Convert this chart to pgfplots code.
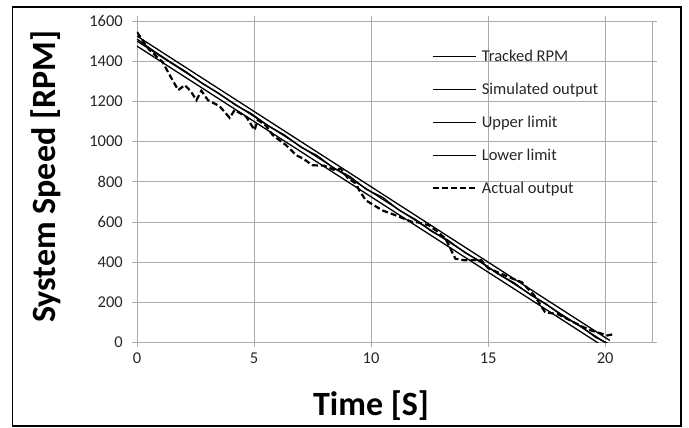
\documentclass[border=0pt]{standalone}
\usepackage{pgfplots}
\pgfplotsset{compat=1.18}
\usepackage{fontspec}
\setmainfont{Carlito}
\begin{document}
\begin{tikzpicture}[x=1pt,y=1pt]
\path[use as bounding box] (0,0) rectangle (689,428);
\draw[line width=1.3pt] (12.5,2) rectangle (681,421);
\begin{axis}[
  at={(137pt,85.5pt)}, anchor=south west,
  scale only axis, width=515pt, height=321.5pt,
  xmin=0, xmax=22, ymin=0, ymax=1600,
  xtick={0,5,10,15,20}, ytick={0,200,...,1600},
  grid=major, grid style={draw=gray!65, line width=0.8pt},
  axis line style={draw=gray!65, line width=0.8pt},
  tick align=outside, major tick length=5pt,
  every tick/.style={draw=gray!65, line width=0.8pt},
  /pgf/number format/assume math mode=true,
  /pgf/number format/set thousands separator={},
  tick label style={font=\fontsize{16.5}{18}\selectfont, text=black!85},
  yticklabel style={inner sep=0pt, xshift=-9pt},
  xticklabel style={inner sep=0pt, yshift=-5pt},
  xlabel={Time [S]}, ylabel={System Speed [RPM]},
  every axis x label/.style={at={(axis description cs:0.4545,-0.2286)}, anchor=base, font=\fontsize{34}{36}\selectfont\bfseries},
  every axis y label/.style={at={(axis description cs:-0.159,0.515)}, rotate=90, anchor=base, font=\fontsize{34}{36}\selectfont\bfseries},
  legend cell align=left,
  legend style={draw=none, fill=none, inner sep=0pt, at={(axis description cs:0.5717,0.913)}, anchor=north west,
    font=\fontsize{16.5}{18}\selectfont, text=black!85,
    nodes={inner sep=0pt, text height=12pt, text depth=4pt},
    row sep=17pt, column sep=5pt},
  legend image code/.code={\draw[#1] (0pt,1pt) -- (43pt,1pt);},
]
\addplot[black, line width=1.3pt] coordinates {(0,1500) (20.2,-15)};
\addlegendentry{Tracked RPM}
\addplot[black, line width=1.3pt] coordinates {
(0,1510) (0.7,1452) (1.4,1398) (2.1,1347) (2.8,1288) (3.5,1240) (4.2,1182) (4.9,1138)
(5.6,1078) (6.3,1033) (7.0,972) (7.7,930) (8.4,868) (9.1,826) (9.8,762) (10.5,722)
(11.2,658) (11.9,612) (12.6,552) (13.3,508) (14.0,448) (14.7,402) (15.4,342) (16.1,298)
(16.8,238) (17.5,190) (18.2,130) (18.9,85) (19.6,25) (20.2,-10)};
\addlegendentry{Simulated output}
\addplot[black, line width=1.3pt] coordinates {(0,1525) (20.2,10)};
\addlegendentry{Upper limit}
\addplot[black, line width=1.3pt] coordinates {(0,1475) (20.2,-40)};
\addlegendentry{Lower limit}
\addplot[black, line width=2.2pt, dash pattern=on 6pt off 3pt] coordinates {
(0,1545) (0.5,1460) (1.1,1395) (1.4,1330) (1.76,1256) (2.04,1281) (2.3,1250) (2.54,1206)
(2.75,1253) (3.03,1206) (3.53,1176) (3.96,1118) (4.17,1157) (4.67,1123) (5.02,1057)
(5.16,1107) (5.5,1080) (5.8,1032) (6.37,982) (6.8,932) (7.08,916) (7.5,882) (8.0,880)
(8.4,860) (8.7,865) (9.0,820) (9.35,791) (9.49,758) (9.77,708) (10.47,658) (11.05,633)
(11.75,600) (12.0,598) (12.47,583) (12.8,555) (13.18,517) (13.6,417) (14.0,409) (14.3,410)
(14.7,410) (15.0,370) (15.5,345) (16.0,320) (16.44,300) (17.0,230) (17.43,151) (18.0,140)
(18.5,110) (19.0,80) (19.4,60) (20.1,35) (20.3,40)};
\addlegendentry{Actual output}
\end{axis}
\end{tikzpicture}
\end{document}
